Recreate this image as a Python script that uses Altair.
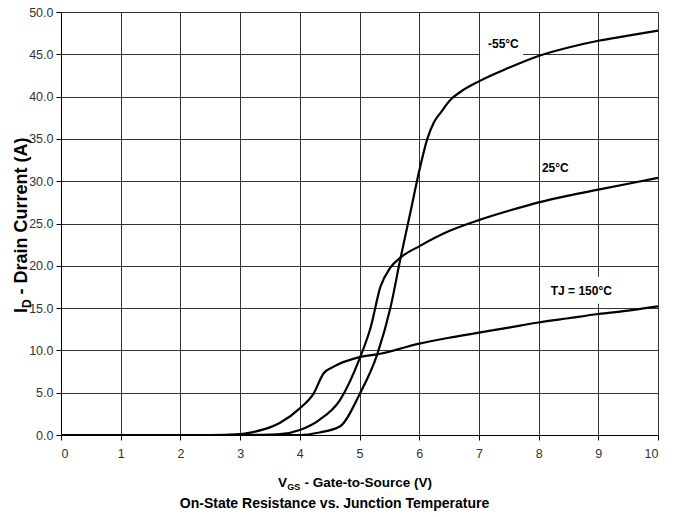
import altair as alt
import pandas as pd

# ---- data ----
vgs_m55 = [0, 1, 2, 3, 3.5, 4, 4.33, 4.67, 5.0, 5.3, 5.52, 5.69, 5.87, 6.0, 6.14, 6.25, 6.37, 6.52, 6.7, 7.0, 7.5, 8.0, 8.5, 9.0, 9.5, 10.0]
id_m55 = [0, 0, 0, 0, 0, 0, 0.3, 1.0, 4.8, 9.6, 15.1, 21.0, 26.9, 31.2, 35.1, 37.0, 38.2, 39.6, 40.6, 41.8, 43.4, 44.8, 45.8, 46.6, 47.2, 47.8]

vgs_25 = [0, 1, 2, 3, 3.5, 3.67, 4.0, 4.33, 4.67, 5.0, 5.19, 5.35, 5.52, 5.69, 6.0, 6.5, 7.0, 7.5, 8.0, 8.5, 9.0, 9.5, 10.0]
id_25 = [0, 0, 0, 0, 0.05, 0.1, 0.6, 1.8, 4.1, 9.0, 12.8, 17.5, 19.8, 21.0, 22.3, 24.1, 25.4, 26.5, 27.5, 28.3, 29.0, 29.7, 30.4]

vgs_150 = [0, 1, 2, 2.5, 3, 3.25, 3.5, 3.67, 4.0, 4.23, 4.4, 4.56, 5.0, 5.35, 6.0, 6.5, 7.0, 7.5, 8.0, 8.5, 9.0, 9.5, 10.0]
id_150 = [0, 0, 0, 0, 0.1, 0.4, 0.9, 1.45, 3.15, 4.9, 7.3, 8.05, 9.2, 9.6, 10.8, 11.5, 12.1, 12.7, 13.3, 13.8, 14.3, 14.7, 15.2]

series_names = ["-55°C", "25°C", "TJ = 150°C"]

label_text = ["-55°C", "25°C", "TJ = 150°C"]
label_x = [7.41, 8.28, 8.715]
label_y = [46.2, 31.6, 17.0]

# white label boxes (Excel-style text boxes that hide the grid)
box_x1 = [7.02, 8.16]
box_x2 = [7.74, 9.28]
box_y1 = [44.7, 15.5]
box_y2 = [47.4, 18.7]

x_ticks = list(range(0, 11))
y_ticks = [0, 5, 10, 15, 20, 25, 30, 35, 40, 45, 50]

FONT = "Liberation Sans, Arial"

rows = []
for name, xs, ys in zip(series_names, [vgs_m55, vgs_25, vgs_150], [id_m55, id_25, id_150]):
    for a, b in zip(xs, ys):
        rows.append({"series": name, "vgs": a, "id": b})
curves = pd.DataFrame(rows)
labels = pd.DataFrame({"text": label_text, "x": label_x, "y": label_y})
boxes = pd.DataFrame({"x1": box_x1, "x2": box_x2, "y1": box_y1, "y2": box_y2})

xscale = alt.Scale(domain=[0, 10], nice=False, zero=False)
yscale = alt.Scale(domain=[0, 50], nice=False)

xaxis = alt.Axis(values=x_ticks, format="d", title=None, grid=True, gridColor="#333",
                 gridWidth=1, domainColor="#000", tickColor="#000", tickSize=5,
                 labelFont=FONT, labelFontSize=12.5, labelColor="#333", labelPadding=7)
yaxis = alt.Axis(values=y_ticks, format=".1f", title=None, grid=True, gridColor="#333",
                 gridWidth=1, domainColor="#000", tickColor="#000", tickSize=5,
                 labelFont=FONT, labelFontSize=12.5, labelColor="#333", labelPadding=3)

base_lines = alt.Chart(curves).mark_line(color="black", strokeWidth=2.2, interpolate="monotone").encode(
    x=alt.X("vgs:Q", scale=xscale, axis=xaxis),
    y=alt.Y("id:Q", scale=yscale, axis=yaxis),
    detail="series:N",
)

box_layer = alt.Chart(boxes).mark_rect(color="white").encode(
    x=alt.X("x1:Q", scale=xscale), x2="x2:Q",
    y=alt.Y("y1:Q", scale=yscale), y2="y2:Q",
)

text_layer = alt.Chart(labels).mark_text(font=FONT, fontWeight="bold", fontSize=12,
                                          color="black", align="center", baseline="middle").encode(
    x=alt.X("x:Q", scale=xscale), y=alt.Y("y:Q", scale=yscale), text="text:N"
)

title_df = pd.DataFrame({"a": [0]})

def txt(t, x, y, size, angle=0, align="left"):
    return alt.Chart(title_df).mark_text(text=t, font=FONT, fontWeight="bold", fontSize=size,
                                          color="black", align=align, baseline="alphabetic",
                                          angle=angle).encode(x=alt.value(x), y=alt.value(y))

# x-axis title with subscript
xt1 = txt("V", 217, 475, 13.5)
xt2 = txt("GS", 226.3, 478, 9)
xt3 = txt("- Gate-to-Source (V)", 243.5, 475, 13.5)
subtitle = txt("On-State Resistance vs. Junction Temperature", 273.5, 496, 14, align="center")

# y-axis title with subscript (rotated)
yt1 = txt("I", -34, 301, 18, angle=270)
yt2 = txt("D", -30, 296, 12, angle=270)
yt3 = txt("- Drain Current (A)", -34, 282.5, 18, angle=270)

chart = alt.layer(
    box_layer, base_lines, text_layer, xt1, xt2, xt3, subtitle, yt1, yt2, yt3
).properties(
    width=597, height=423,
    autosize=alt.AutoSizeParams(type="none"),
    padding={"left": 61, "top": 12, "right": 20, "bottom": 82},
).configure_view(stroke="#333").configure(background="white")

chart.save("out.html", embed_options={"renderer": "svg", "actions": False})
